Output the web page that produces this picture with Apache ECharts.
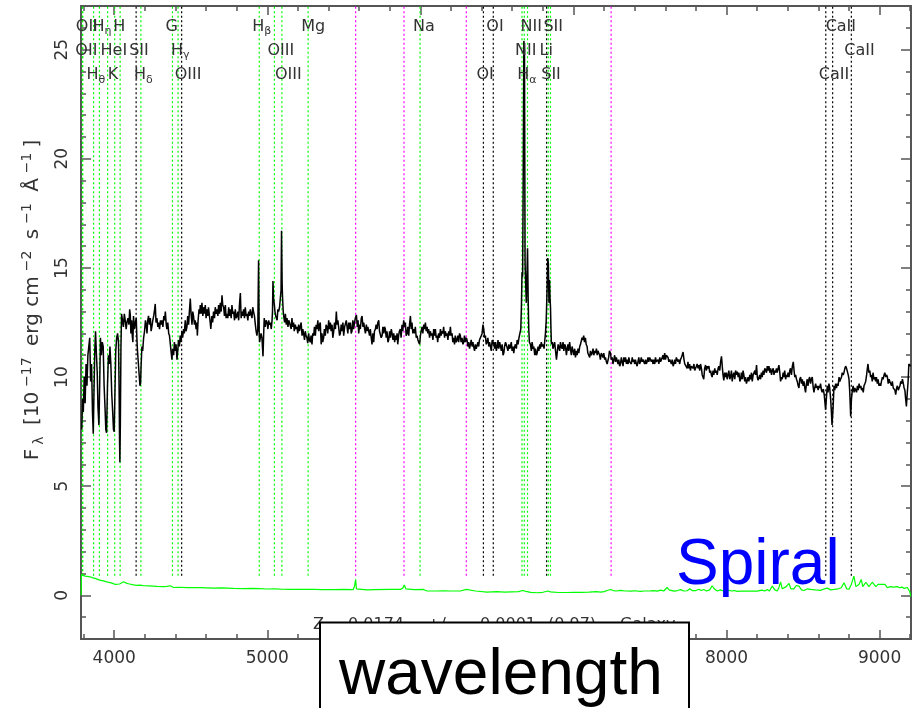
<!DOCTYPE html>
<html>
<head>
<meta charset="utf-8">
<script src="https://cdn.jsdelivr.net/npm/echarts@6/dist/echarts.min.js"></script>
<style>
  html, body { margin: 0; padding: 0; background: #ffffff; }
  #chart { width: 916px; height: 708px; }
</style>
</head>
<body>
<div id="chart"></div>
<script>
// ---------- spectrum: observed wavelength (Angstrom) and flux (1e-17 erg/cm2/s/A) ----------
const SPEC_WAVE = [
  3788,3793,3798,3804,3810,3816,3822,3828,3834,3840,3846,3852,3858,3863,3868,3873,3878,3884,3889,3894,
  3900,3905,3910,3916,3922,3928,3934,3940,3945,3950,3956,3962,3968,3972,3978,3984,3990,3995,4000,4005,
  4010,4016,4022,4028,4032,4035,4037,4040,4044,4048,4054,4060,4066,4072,4078,4083,4090,4096,4101,4105,
  4109,4114,4118,4122,4126,4132,4138,4144,4148,4152,4158,4164,4168,4172,4176,4181,4186,4192,4198,4204,
  4209,4214,4219,4224,4230,4236,4241,4246,4252,4258,4264,4268,4273,4279,4285,4290,4296,4302,4308,4312,
  4318,4324,4329,4334,4340,4344,4350,4356,4361,4366,4371,4377,4382,4388,4393,4399,4404,4410,4415,4420,
  4426,4431,4437,4442,4447,4453,4458,4464,4469,4475,4480,4486,4491,4497,4502,4508,4513,4518,4524,4529,
  4535,4540,4543,4548,4554,4559,4562,4568,4573,4579,4584,4590,4595,4600,4606,4611,4616,4622,4627,4631,
  4638,4643,4649,4655,4660,4666,4671,4677,4682,4688,4693,4699,4704,4709,4715,4720,4726,4731,4737,4742,
  4748,4753,4758,4764,4769,4775,4780,4786,4791,4797,4802,4808,4813,4818,4824,4829,4835,4840,4845,4851,
  4856,4862,4867,4873,4878,4884,4889,4894,4900,4905,4910,4916,4922,4927,4932,4938,4943,4947,4950,4954,
  4959,4965,4969,4972,4976,4980,4986,4992,4998,5004,5009,5014,5020,5026,5031,5034,5037,5041,5045,5050,
  5055,5059,5064,5069,5074,5080,5085,5090,5093,5097,5100,5104,5107,5113,5118,5124,5129,5135,5140,5145,
  5150,5156,5161,5167,5172,5176,5183,5188,5194,5199,5205,5210,5216,5221,5227,5232,5237,5243,5248,5253,
  5259,5264,5270,5275,5281,5286,5292,5297,5303,5308,5314,5319,5325,5330,5336,5341,5346,5352,5357,5362,
  5368,5373,5379,5384,5390,5395,5401,5406,5412,5417,5423,5428,5434,5439,5445,5451,5456,5461,5466,5472,
  5477,5483,5488,5494,5499,5505,5510,5516,5521,5526,5532,5537,5543,5548,5553,5559,5564,5570,5575,5582,
  5588,5593,5597,5603,5608,5614,5619,5625,5630,5636,5641,5647,5652,5657,5662,5668,5673,5679,5684,5690,
  5695,5700,5706,5711,5717,5722,5728,5733,5739,5744,5750,5755,5761,5766,5771,5777,5782,5788,5793,5799,
  5804,5810,5815,5821,5826,5832,5837,5843,5848,5852,5858,5863,5869,5874,5880,5885,5891,5896,5902,5907,
  5913,5918,5924,5929,5935,5940,5945,5951,5956,5962,5967,5973,5978,5984,5989,5995,6000,6005,6011,6016,
  6022,6027,6033,6038,6044,6049,6054,6060,6065,6071,6076,6082,6087,6093,6098,6103,6109,6113,6119,6125,
  6131,6136,6141,6147,6152,6158,6163,6168,6174,6180,6185,6190,6196,6201,6207,6212,6217,6223,6228,6234,
  6239,6245,6250,6256,6261,6266,6272,6278,6283,6288,6294,6300,6305,6310,6316,6321,6327,6332,6338,6343,
  6348,6354,6359,6365,6370,6376,6381,6386,6392,6398,6403,6409,6414,6420,6425,6430,6436,6441,6447,6452,
  6458,6463,6469,6474,6480,6485,6491,6496,6502,6507,6512,6518,6523,6529,6534,6540,6545,6550,6556,6561,
  6567,6572,6578,6583,6588,6594,6599,6605,6610,6616,6621,6627,6632,6638,6644,6650,6656,6660,6664,6668,
  6672,6676,6680,6684,6688,6692,6696,6700,6704,6708,6712,6719,6725,6730,6736,6741,6747,6752,6758,6763,
  6769,6774,6780,6784,6790,6796,6802,6808,6813,6817,6822,6828,6832,6836,6840,6844,6847,6850,6853,6856,
  6862,6866,6871,6877,6883,6889,6895,6900,6904,6910,6915,6921,6926,6932,6937,6943,6948,6954,6959,6964,
  6969,6975,6980,6986,6991,6997,7002,7008,7013,7019,7024,7030,7035,7041,7046,7050,7056,7061,7067,7072,
  7078,7083,7089,7094,7100,7106,7111,7117,7122,7128,7133,7139,7144,7150,7155,7160,7165,7171,7176,7182,
  7187,7193,7198,7204,7209,7215,7220,7224,7230,7235,7242,7247,7253,7258,7264,7269,7275,7280,7285,7291,
  7296,7302,7307,7313,7318,7324,7329,7335,7340,7346,7351,7357,7362,7367,7373,7378,7384,7389,7394,7400,
  7405,7411,7416,7421,7427,7432,7438,7443,7449,7454,7460,7465,7471,7476,7481,7487,7492,7498,7503,7509,
  7514,7520,7525,7531,7536,7542,7547,7553,7558,7564,7569,7575,7580,7585,7590,7596,7601,7607,7612,7618,
  7623,7629,7634,7640,7645,7651,7656,7662,7667,7672,7677,7683,7688,7694,7699,7705,7710,7716,7722,7727,
  7732,7738,7743,7748,7753,7759,7764,7770,7776,7781,7787,7792,7797,7803,7808,7814,7819,7825,7830,7836,
  7841,7846,7851,7857,7863,7868,7874,7879,7885,7890,7896,7901,7906,7912,7917,7923,7928,7934,7939,7945,
  7950,7956,7961,7967,7972,7977,7982,7988,7993,7999,8004,8010,8015,8021,8026,8032,8037,8043,8048,8054,
  8059,8065,8070,8076,8081,8087,8092,8097,8103,8108,8113,8119,8124,8130,8135,8141,8146,8152,8157,8163,
  8168,8174,8179,8185,8190,8196,8201,8206,8211,8217,8222,8228,8233,8239,8244,8250,8255,8261,8266,8272,
  8277,8283,8288,8294,8299,8305,8310,8315,8320,8326,8331,8337,8342,8348,8353,8359,8364,8370,8375,8380,
  8386,8391,8397,8402,8408,8413,8418,8424,8430,8436,8441,8446,8451,8457,8462,8468,8473,8478,8484,8490,
  8495,8500,8506,8511,8516,8522,8527,8532,8538,8543,8549,8554,8560,8565,8571,8576,8582,8587,8593,8598,
  8604,8609,8614,8620,8625,8632,8638,8642,8647,8652,8658,8663,8669,8674,8680,8685,8689,8691,8696,8702,
  8707,8713,8718,8724,8729,8735,8740,8745,8751,8756,8762,8767,8773,8778,8784,8789,8795,8800,8805,8811,
  8816,8822,8827,8833,8838,8844,8849,8855,8860,8866,8871,8877,8882,8888,8893,8898,8904,8909,8915,8920,
  8924,8930,8936,8941,8946,8952,8957,8963,8968,8974,8979,8985,8990,8996,9001,9007,9012,9018,9023,9029,
  9034,9040,9045,9051,9056,9062,9067,9072,9078,9083,9089,9094,9100,9105,9111,9116,9122,9127,9133,9138,
  9144,9149,9155,9160,9165,9170,9175,9180,9186,9191,9197,9203
];
const SPEC_FLUX = [
  7.6,9.0,8.4,10.0,8.8,10.6,9.6,11.0,11.4,11.8,9.8,10.6,8.4,7.4,9.4,11.2,12.1,11.0,10.2,8.6,
  7.8,9.6,11.8,11.0,11.6,11.4,9.6,8.6,7.6,7.45,9.6,11.0,10.6,11.4,10.6,9.2,8.4,7.6,7.5,9.4,
  11.2,11.8,12.0,11.6,9.4,7.0,6.1,7.8,11.4,12.9,12.6,12.3,12.9,12.6,12.2,12.5,12.7,12.4,13.1,12.85,
  12.0,12.6,11.9,11.6,12.8,12.2,12.5,12.7,11.8,11.2,10.6,10.0,9.6,9.7,10.6,11.4,11.2,11.8,12.1,12.6,
  12.4,12.0,12.6,12.8,12.4,12.7,12.1,12.3,12.6,12.8,13.1,13.35,12.5,12.7,12.3,12.5,12.2,12.6,12.4,12.6,
  12.3,12.8,12.6,13.0,12.4,12.2,12.5,12.0,11.9,11.85,11.2,10.8,11.3,11.0,11.6,11.2,11.5,10.8,11.2,11.7,
  11.4,11.9,11.6,12.1,11.8,12.2,12.0,12.6,12.1,12.3,12.8,12.4,13.0,13.6,12.9,12.4,13.0,12.8,12.4,12.6,
  12.2,12.5,11.9,12.6,13.1,12.9,13.3,12.9,13.4,12.8,13.2,12.9,13.3,12.7,13.1,12.8,13.2,12.8,12.5,12.2,
  12.8,12.5,13.0,12.7,13.2,12.9,13.1,12.8,13.3,12.9,13.4,13.0,13.75,13.3,13.2,12.8,13.3,12.7,12.9,12.7,
  13.2,12.8,13.1,12.7,13.3,12.9,13.0,12.6,13.1,12.7,12.8,13.0,12.6,13.3,13.85,12.7,13.0,12.8,13.1,12.7,
  13.2,12.8,12.9,12.6,13.0,12.8,13.1,12.9,12.7,13.2,13.0,12.8,12.4,12.1,11.9,12.2,15.35,12.0,11.6,11.55,
  12.0,11.8,11.3,10.95,11.9,12.7,12.3,12.6,12.5,12.2,12.6,12.4,12.5,12.2,12.6,13.0,14.4,13.6,13.4,13.0,
  12.8,12.8,12.6,13.1,13.0,13.2,13.6,14.0,16.7,14.2,13.6,13.0,12.8,12.5,12.9,12.4,12.7,12.3,12.6,12.5,
  12.5,12.2,12.7,12.3,12.5,12.1,12.4,12.2,12.3,12.0,12.4,12.1,12.1,12.5,11.9,12.2,12.0,11.7,12.1,11.9,
  11.8,11.55,12.0,11.7,11.6,11.9,11.5,12.0,11.9,12.3,11.9,12.4,12.2,12.6,12.1,12.4,12.5,11.5,12.0,11.6,
  11.8,12.2,11.9,12.4,12.3,12.0,12.6,12.2,12.5,12.1,12.4,11.8,12.1,12.5,12.2,13.0,12.4,12.6,12.3,11.9,
  12.0,12.4,12.1,12.5,11.9,12.3,12.3,12.6,12.6,12.0,12.5,12.2,12.5,12.0,12.1,12.6,12.2,12.5,12.7,12.85,
  12.3,12.6,12.0,12.4,12.2,12.7,12.8,12.3,12.5,12.2,12.0,12.4,12.1,12.3,12.3,11.9,12.2,11.8,11.5,12.0,
  11.6,12.1,12.2,12.4,12.2,12.5,12.6,12.1,12.1,11.8,11.9,12.3,12.0,12.3,12.2,11.8,12.1,11.6,11.7,12.1,
  11.8,12.2,12.0,11.7,12.0,11.6,11.9,11.7,12.0,11.5,11.9,12.1,12.2,11.8,12.4,12.1,12.6,12.3,12.5,11.9,
  12.0,12.3,11.9,12.4,12.8,12.2,12.5,12.0,12.2,12.0,12.3,11.8,11.9,11.7,11.6,11.5,11.9,12.1,12.3,12.0,
  12.4,12.2,12.5,12.1,12.3,12.0,12.2,11.8,12.1,11.9,12.0,11.7,12.2,11.9,12.2,11.8,11.9,11.6,12.0,11.8,
  12.2,11.9,12.1,12.0,12.3,11.8,12.1,11.9,12.0,11.7,12.1,11.9,12.3,11.9,12.0,11.6,11.8,11.5,11.9,11.6,
  11.7,11.9,11.6,12.0,11.9,11.6,11.8,11.5,11.6,11.9,11.6,11.8,11.7,11.4,11.6,11.3,11.5,11.7,11.4,11.6,
  11.4,11.2,11.5,11.3,11.3,11.6,11.4,11.7,11.7,11.9,12.0,12.4,12.2,11.8,11.9,11.5,11.6,11.8,11.4,11.6,
  11.4,11.2,11.7,11.5,11.6,11.3,11.6,11.2,11.4,11.7,11.3,11.6,11.6,11.2,11.5,11.0,11.1,11.4,11.6,11.5,
  11.5,11.2,11.5,11.3,11.4,11.6,11.2,11.4,11.1,11.4,11.5,11.3,11.7,11.5,11.8,12.0,12.2,13.2,14.8,14.6,
  19.5,25.4,25.0,15.2,14.2,13.4,14.6,15.9,13.6,12.2,11.6,11.5,11.2,11.6,11.3,11.4,11.0,11.3,11.0,11.1,
  11.4,11.2,11.5,11.3,11.6,11.4,11.5,11.3,11.7,12.0,12.6,14.1,15.45,15.2,13.4,14.45,13.6,13.2,12.2,11.5,
  11.6,11.3,11.3,11.6,11.2,10.8,11.2,11.5,11.5,11.2,11.6,11.4,11.3,11.6,11.2,11.5,11.4,11.0,11.3,11.5,
  11.2,11.6,11.3,11.0,11.4,11.2,11.0,11.3,10.9,11.2,11.0,11.3,11.1,11.4,11.5,11.5,11.8,11.7,11.9,11.6,
  11.8,11.5,11.4,11.1,11.0,10.9,11.2,11.0,11.1,11.3,11.0,11.2,11.1,11.3,11.0,11.2,11.2,11.0,10.8,11.1,
  11.0,10.9,11.1,10.8,10.9,10.7,10.6,10.6,10.9,11.2,11.1,10.8,10.9,10.6,10.8,11.0,10.7,10.9,10.9,10.6,
  10.8,10.5,10.6,10.9,10.7,10.5,10.9,10.7,10.9,10.6,10.8,10.6,10.9,10.7,10.75,10.6,10.9,10.7,10.8,10.6,
  10.8,10.6,10.5,10.7,10.9,10.6,10.7,10.9,10.7,10.8,10.8,10.6,10.8,10.6,10.7,10.9,10.7,10.9,10.85,10.7,
  10.8,10.6,10.8,10.6,10.9,10.7,10.65,10.8,10.6,10.9,10.7,10.8,10.9,11.0,10.8,11.1,10.8,11.0,11.05,10.9,
  10.7,10.8,10.7,10.6,10.8,10.5,10.6,10.8,10.6,10.9,10.95,10.7,10.8,10.6,10.8,10.9,11.0,11.15,10.8,10.6,
  10.55,10.6,10.4,10.7,10.4,10.6,10.3,10.5,10.55,10.4,10.6,10.3,10.3,10.5,10.6,10.4,10.55,10.3,10.6,10.4,
  10.1,10.0,9.9,10.4,10.55,10.3,10.5,10.4,10.5,10.2,10.3,10.1,10.0,10.3,10.1,10.4,10.2,10.3,10.1,10.4,
  10.5,10.3,10.7,10.95,10.5,10.1,9.85,10.2,10.0,10.2,9.9,10.1,10.3,9.9,10.0,10.3,9.8,10.1,10.2,9.9,
  10.3,10.1,10.25,10.0,10.2,9.8,9.9,10.2,9.9,10.3,10.1,9.8,10.0,9.7,9.7,10.0,9.8,10.1,9.9,10.2,
  9.8,10.1,10.15,10.3,10.1,10.55,10.0,9.85,9.85,10.1,9.9,10.2,10.0,10.3,10.1,10.4,10.4,10.2,10.5,10.3,
  10.5,10.2,10.4,10.1,10.3,10.4,10.1,10.3,10.2,10.4,10.2,10.4,10.55,10.2,9.8,10.0,9.9,10.2,10.0,10.3,
  9.9,10.1,10.0,10.2,10.0,10.3,10.4,10.1,10.5,10.7,10.3,10.0,10.1,9.9,9.8,9.6,9.5,9.9,10.0,9.7,
  9.9,9.6,9.8,9.5,9.3,9.7,9.9,9.6,9.9,10.0,9.7,9.9,10.0,9.6,9.3,9.5,9.7,9.5,9.6,9.4,
  9.6,9.5,9.7,9.4,9.3,9.45,9.2,8.9,8.5,9.0,9.6,9.3,9.7,9.5,9.0,8.4,7.8,7.75,8.6,9.6,
  9.4,9.7,9.5,9.7,9.6,10.0,9.8,9.9,10.0,10.2,10.1,10.2,10.4,10.5,10.4,10.4,10.1,9.9,9.3,8.2,
  9.0,9.4,9.6,9.3,9.5,9.5,9.3,9.6,9.4,9.7,9.5,9.6,9.4,9.5,9.3,9.6,9.7,9.8,10.1,10.4,
  10.6,10.2,10.3,10.0,10.1,9.8,10.2,9.9,10.0,9.8,10.0,9.7,9.9,9.6,9.7,9.6,9.8,10.0,9.9,10.1,
  10.2,10.0,10.1,10.0,9.7,9.9,9.8,9.8,9.6,9.8,9.5,9.5,9.4,9.2,9.5,9.6,9.4,9.5,9.6,9.8,
  9.7,9.9,9.7,9.5,9.4,9.0,8.65,9.2,9.8,10.6,10.6,10.5
];

// ---------- flux error ----------
const ERR_WAVE = [
  3784,3786,3799,3810,3822,3843,3860,3875,3887,3905,3918,3930,3950,3962,3974,3990,4007,4020,4035,4048,
  4061,4072,4083,4100,4126,4150,4170,4192,4230,4279,4320,4345,4355,4365,4388,4420,4480,4562,4650,4700,
  4780,4850,4900,4950,4998,5050,5100,5150,5215,5300,5350,5433,5500,5560,5570,5577,5582,5590,5651,5700,
  5800,5869,5885,5895,5905,5913,5960,6021,6030,6043,6100,6150,6200,6261,6300,6310,6360,6436,6500,6550,
  6640,6668,6676,6690,6720,6763,6800,6832,6839,6850,6900,6960,7000,7045,7100,7150,7176,7200,7220,7242,
  7260,7280,7307,7340,7380,7400,7438,7460,7500,7520,7547,7570,7590,7612,7625,7656,7680,7700,7720,7743,
  7760,7775,7787,7800,7820,7835,7851,7870,7890,7906,7920,7939,7960,7980,8004,8030,8050,8070,8092,8120,
  8150,8180,8201,8230,8250,8266,8280,8299,8315,8331,8342,8353,8364,8375,8390,8408,8420,8440,8455,8473,
  8490,8506,8530,8549,8580,8614,8640,8658,8680,8702,8730,8750,8767,8785,8800,8815,8832,8845,8854,8865,
  8880,8890,8897,8910,8919,8930,8941,8952,8963,8975,8990,9007,9020,9035,9051,9070,9090,9116,9130,9145,
  9160,9170,9181,9190,9198,9203
];
const ERR_FLUX = [
  0.0,0.95,0.93,0.88,0.9,0.85,0.8,0.78,0.73,0.7,0.72,0.66,0.62,0.6,0.58,0.55,0.5,0.54,0.52,0.58,
  0.62,0.57,0.55,0.52,0.48,0.46,0.47,0.44,0.43,0.41,0.4,0.41,0.46,0.44,0.36,0.37,0.35,0.35,0.33,0.34,
  0.32,0.31,0.32,0.31,0.29,0.3,0.28,0.27,0.27,0.28,0.26,0.26,0.27,0.26,0.42,0.73,0.3,0.27,0.25,0.26,
  0.27,0.27,0.33,0.47,0.3,0.27,0.26,0.27,0.2,0.2,0.2,0.21,0.2,0.2,0.27,0.2,0.2,0.15,0.17,0.15,
  0.17,0.22,0.26,0.18,0.14,0.12,0.14,0.2,0.23,0.16,0.13,0.13,0.14,0.14,0.15,0.17,0.15,0.17,0.22,0.27,
  0.22,0.2,0.23,0.2,0.19,0.21,0.18,0.2,0.2,0.22,0.19,0.24,0.2,0.36,0.25,0.19,0.22,0.26,0.2,0.21,
  0.3,0.22,0.3,0.22,0.28,0.22,0.27,0.2,0.25,0.44,0.3,0.2,0.25,0.2,0.25,0.2,0.22,0.18,0.19,0.2,
  0.19,0.2,0.19,0.24,0.2,0.27,0.2,0.42,0.25,0.2,0.35,0.62,0.3,0.26,0.4,0.55,0.3,0.3,0.45,0.42,
  0.25,0.22,0.3,0.27,0.25,0.23,0.3,0.33,0.25,0.27,0.3,0.35,0.58,0.3,0.28,0.5,0.88,0.4,0.45,0.5,
  0.73,0.4,0.35,0.6,0.65,0.4,0.45,0.6,0.55,0.4,0.5,0.5,0.42,0.5,0.35,0.4,0.38,0.4,0.35,0.38,
  0.32,0.3,0.36,0.33,0.15,-0.05
];

// ---------- identified lines (rest wavelength) and night-sky lines (observed) ----------
const REDSHIFT = 0.0174;
const LINE_NAMES = ['OII','OII','H_θ','H_η','HeI','K','H','SII','H_δ','G','H_γ','OIII','H_β','OIII','OIII','Mg',
                    'Na','OI','OI','NII','H_α','NII','Li','SII','SII','CaII','CaII','CaII'];
const LINE_REST = [3727.09,3729.88,3798.98,3836.48,3889.0,3934.78,3969.59,4072.3,4102.89,4305.61,4341.68,4364.44,
                   4862.68,4960.3,5008.24,5176.7,5895.6,6302.05,6365.5,6549.86,6564.61,6585.27,6707.89,6718.29,
                   6732.67,8500.36,8544.44,8664.52];
const LINE_KIND = ['em','em','em','em','em','em','em','abs','em','em','em','abs','em','em','em','em',
                   'em','abs','abs','em','em','em','abs','em','em','abs','abs','abs'];
const LINE_ROW = [1,0,2,0,1,2,0,1,2,0,1,2,0,1,2,0,0,2,0,1,2,0,1,2,0,2,0,1];
const SKY_LINES = [5577, 5893, 6300, 7246];

// ---------- axes ----------
const X_RANGE = [3783, 9205];
const Y_RANGE = [-2, 27];
const X_MAJOR = [4000, 5000, 6000, 7000, 8000, 9000];
const Y_MAJOR = [0, 5, 10, 15, 20, 25];
const X_MINOR = [];
for (let w = 3800; w <= 9200; w += 200) X_MINOR.push(w);
const Y_MINOR = [];
for (let f = -1; f <= 26; f += 1) Y_MINOR.push(f);

// fit line of the plot: redshift summary, split into its printed fields
const FIT_FIELDS = ['Z', '=', '0.0174', '+/-', '0.0001', '(0.97)', 'Galaxy'];
const FIT_FIELD_X = [313, 327, 348, 427, 480, 548, 620];

// ---------- layout ----------
const MARKER_SPAN = [0.9, 27];            // flux range covered by the dotted line markers
const LABEL_ROW_FLUX = [26.42, 25.33, 24.19];
const LABEL_DX = -7;
const TEXT_FONT = 'DejaVu Sans';
const AXIS_GREY = '#555555';
const TEXT_GREY = '#333333';
const KIND_COLOR = { em: '#00ff00', abs: '#000000', sky: '#ff00ff' };

const spectrum = SPEC_WAVE.map((w, i) => [w, SPEC_FLUX[i]]);
const errorCurve = ERR_WAVE.map((w, i) => [w, ERR_FLUX[i]]);

const markers = LINE_REST.map((w, i) => ({ wave: w * (1 + REDSHIFT), kind: LINE_KIND[i] }))
  .concat(SKY_LINES.map(w => ({ wave: w, kind: 'sky' })));

const labels = LINE_NAMES.map((name, i) => ({
  name: name,
  wave: LINE_REST[i] * (1 + REDSHIFT),
  flux: LABEL_ROW_FLUX[LINE_ROW[i]]
}));

function richLabel(name) {
  const parts = name.split('_');
  return parts.length > 1 ? '{m|' + parts[0] + '}{s|' + parts[1] + '}' : '{m|' + name + '}';
}

const LABEL_RICH = {
  m: { fontFamily: TEXT_FONT, fontSize: 16, lineHeight: 16, verticalAlign: 'top', fill: TEXT_GREY },
  s: { fontFamily: TEXT_FONT, fontSize: 11, lineHeight: 11, padding: [9, 0, 0, 0], fill: TEXT_GREY }
};

const plainNumber = v => String(v);

function xAxisDef(position, ticks, tickLen, showLine, showLabels) {
  return {
    type: 'value', position: position, min: X_RANGE[0], max: X_RANGE[1],
    axisLine: { show: showLine, onZero: false, lineStyle: { color: AXIS_GREY, width: 2 } },
    axisTick: { show: true, inside: true, length: tickLen, customValues: ticks,
                lineStyle: { color: AXIS_GREY, width: 1.5 } },
    axisLabel: { show: showLabels, customValues: X_MAJOR, margin: 11, formatter: plainNumber,
                 fontFamily: TEXT_FONT, fontSize: 17, color: TEXT_GREY },
    splitLine: { show: false }
  };
}
function yAxisDef(position, ticks, tickLen, showLine, showLabels) {
  return {
    type: 'value', position: position, min: Y_RANGE[0], max: Y_RANGE[1],
    axisLine: { show: showLine, onZero: false, lineStyle: { color: AXIS_GREY, width: 2 } },
    axisTick: { show: true, inside: true, length: tickLen, customValues: ticks,
                lineStyle: { color: AXIS_GREY, width: 1.5 } },
    axisLabel: { show: showLabels, customValues: Y_MAJOR, rotate: 90, margin: 10, formatter: plainNumber,
                 fontFamily: TEXT_FONT, fontSize: 17, color: TEXT_GREY },
    splitLine: { show: false }
  };
}

const fitText = FIT_FIELDS.map((t, i) => ({
  type: 'text',
  x: FIT_FIELD_X[i], y: 617, z: 60,
  style: { text: t, fill: TEXT_GREY, font: '16px "DejaVu Sans"', align: 'left', verticalAlign: 'top' }
}));

const chart = echarts.init(document.getElementById('chart'), null, { renderer: 'canvas' });

chart.setOption({
  animation: false,
  backgroundColor: '#ffffff',
  grid: { left: 81, right: 5, top: 6, bottom: 69, containLabel: false },
  xAxis: [
    xAxisDef('bottom', X_MAJOR, 9, true, true),
    xAxisDef('bottom', X_MINOR, 5, false, false),
    xAxisDef('top', X_MAJOR, 9, true, false),
    xAxisDef('top', X_MINOR, 5, false, false)
  ],
  yAxis: [
    yAxisDef('left', Y_MAJOR, 10, true, true),
    yAxisDef('left', Y_MINOR, 5, false, false),
    yAxisDef('right', Y_MAJOR, 10, true, false),
    yAxisDef('right', Y_MINOR, 5, false, false)
  ],
  series: [
    {
      // dotted markers at the expected line positions
      type: 'custom',
      name: 'markers',
      xAxisIndex: 0, yAxisIndex: 0,
      data: markers.map(m => [m.wave]),
      renderItem: function (params, api) {
        const m = markers[params.dataIndex];
        const p1 = api.coord([api.value(0), MARKER_SPAN[0]]);
        const p2 = api.coord([api.value(0), MARKER_SPAN[1]]);
        return {
          type: 'line',
          shape: { x1: p1[0], y1: p1[1], x2: p2[0], y2: p2[1] },
          style: { stroke: KIND_COLOR[m.kind], lineWidth: 1.2, lineDash: [2, 2.5] }
        };
      },
      z: 1
    },
    {
      type: 'line',
      name: 'error',
      xAxisIndex: 0, yAxisIndex: 0,
      data: errorCurve,
      showSymbol: false, symbol: 'none',
      lineStyle: { color: '#00ff00', width: 1.2 },
      z: 2
    },
    {
      type: 'line',
      name: 'flux',
      xAxisIndex: 0, yAxisIndex: 0,
      data: spectrum,
      showSymbol: false, symbol: 'none',
      sampling: null,
      lineStyle: { color: '#000000', width: 1.5 },
      z: 3
    },
    {
      // line identifications
      type: 'custom',
      name: 'labels',
      xAxisIndex: 0, yAxisIndex: 0,
      data: labels.map(l => [l.wave, l.flux]),
      renderItem: function (params, api) {
        const l = labels[params.dataIndex];
        const p = api.coord([api.value(0), api.value(1)]);
        return {
          type: 'text',
          x: p[0] + LABEL_DX,
          y: p[1],
          style: {
            text: richLabel(l.name),
            rich: LABEL_RICH,
            fill: TEXT_GREY,
            align: 'left',
            verticalAlign: 'top'
          }
        };
      },
      z: 4
    }
  ],
  graphic: fitText.concat([
    {
      type: 'text',
      rotation: Math.PI / 2,
      x: 33, y: 300,
      z: 50,
      style: {
        text: '{m|F}{sub|λ}{m| [10}{sup|−17}{m| erg cm}{sup|−2}{m| s}{sup|−1}{m| Å}{sup|−1}{m|]}',
        align: 'center', verticalAlign: 'middle',
        rich: {
          m: { fontFamily: TEXT_FONT, fontSize: 20, lineHeight: 20, padding: [0, 3, 0, 3], fill: TEXT_GREY },
          sup: { fontFamily: TEXT_FONT, fontSize: 14, lineHeight: 14, padding: [0, 2, 12, 2], fill: TEXT_GREY },
          sub: { fontFamily: TEXT_FONT, fontSize: 14, lineHeight: 14, padding: [12, 2, 0, 1], fill: TEXT_GREY }
        }
      }
    },
    {
      type: 'text',
      x: 676, y: 566, z: 60,
      style: {
        text: 'Spiral', fill: '#0000ff',
        font: '64px "Liberation Sans", Arial, sans-serif',
        align: 'left', verticalAlign: 'middle'
      }
    },
    {
      type: 'rect',
      z: 70,
      shape: { x: 320, y: 622.5, width: 369, height: 120 },
      style: { fill: '#ffffff', stroke: '#000000', lineWidth: 2 }
    },
    {
      type: 'text',
      x: 339, y: 676, z: 80,
      style: {
        text: 'wavelength', fill: '#000000',
        font: '64px "Liberation Sans", Arial, sans-serif',
        align: 'left', verticalAlign: 'middle'
      }
    }
  ])
});
</script>
</body>
</html>
